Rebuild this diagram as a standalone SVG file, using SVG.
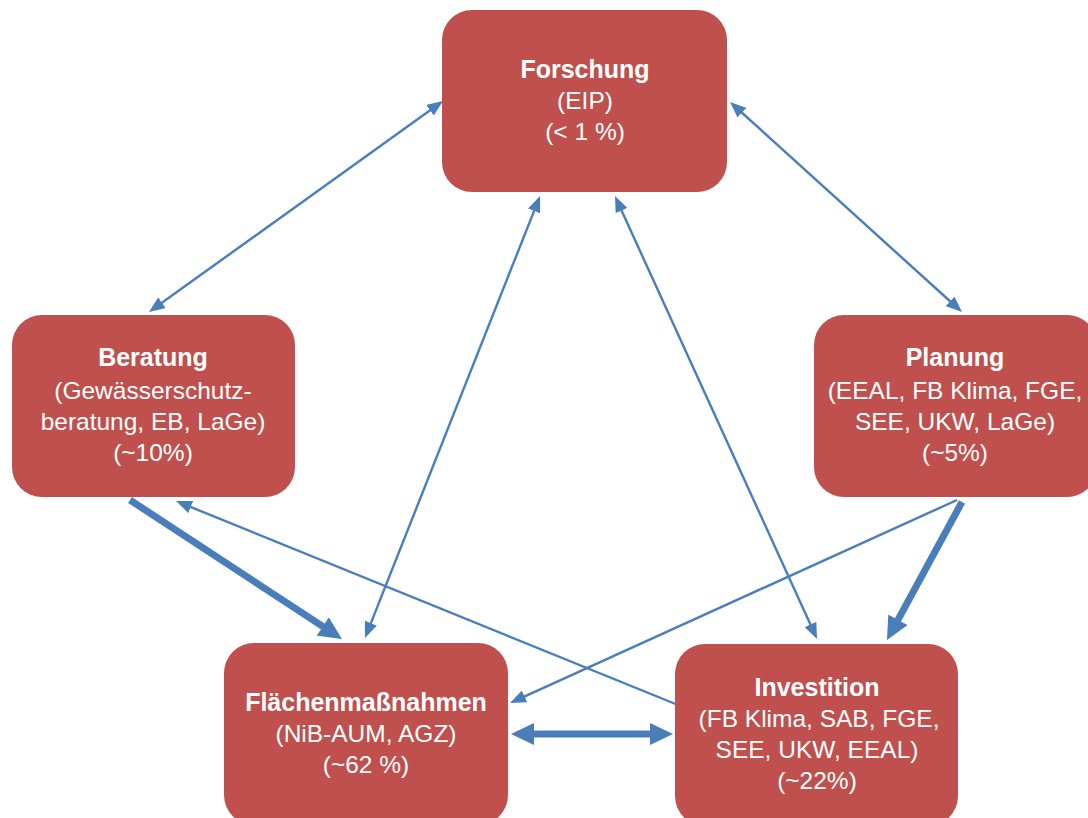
<svg xmlns="http://www.w3.org/2000/svg" width="1088" height="818" viewBox="0 0 1088 818">
<style>
.box{fill:#C0504D;}
.t{font-family:"Liberation Sans",Arial,sans-serif;font-size:24.5px;fill:#FFFFFF;text-anchor:middle;}
.b{font-weight:bold;font-size:25px;}
.thin{stroke:#4A7EBB;stroke-width:2.4;fill:none;}
.thick{stroke:#4A7EBB;stroke-width:7;fill:none;}
</style>
<defs>
<marker id="ah" markerUnits="userSpaceOnUse" markerWidth="16" markerHeight="13" refX="7" refY="6.5" orient="auto-start-reverse"><path d="M0,0 L16,6.5 L0,13 z" fill="#4A7EBB"/></marker>
<marker id="ahT" markerUnits="userSpaceOnUse" markerWidth="23" markerHeight="22" refX="10" refY="11" orient="auto-start-reverse"><path d="M0,0 L23,11 L0,22 z" fill="#4A7EBB"/></marker>
</defs>
<rect width="1088" height="818" fill="#FFFFFF"/>
<g id="connectors">
<line class="thin" x1="435.7" y1="106.2" x2="156.3" y2="306.8" marker-start="url(#ah)" marker-end="url(#ah)"/>
<line class="thin" x1="736.7" y1="108" x2="955.3" y2="306" marker-start="url(#ah)" marker-end="url(#ah)"/>
<line class="thin" x1="536.7" y1="204.4" x2="368.3" y2="629.6" marker-start="url(#ah)" marker-end="url(#ah)"/>
<line class="thin" x1="618.7" y1="204.2" x2="813.3" y2="630.8" marker-start="url(#ah)" marker-end="url(#ah)"/>
<line class="thin" x1="678" y1="705" x2="184.3" y2="504.4" marker-end="url(#ah)"/>
<line class="thin" x1="957" y1="500" x2="518.2" y2="699.3" marker-end="url(#ah)"/>
<line class="thick" x1="130" y1="500" x2="331.1" y2="631.9" marker-end="url(#ahT)"/>
<line class="thick" x1="962" y1="502" x2="893.2" y2="628.6" marker-end="url(#ahT)"/>
<line class="thick" x1="524" y1="734" x2="660" y2="734" marker-start="url(#ahT)" marker-end="url(#ahT)"/>
</g>
<g id="forschung">
<rect class="box" x="442" y="10" width="285" height="182" rx="30"/>
<text class="t b" x="585" y="78">Forschung</text>
<text class="t" x="585" y="109">(EIP)</text>
<text class="t" x="585" y="140">(&lt; 1 %)</text>
</g>
<g id="beratung">
<rect class="box" x="12" y="315" width="283" height="182" rx="30"/>
<text class="t b" x="153" y="366">Beratung</text>
<text class="t" x="153" y="399">(Gewässerschutz-</text>
<text class="t" x="153" y="430">beratung, EB, LaGe)</text>
<text class="t" x="153" y="461">(~10%)</text>
</g>
<g id="planung">
<rect class="box" x="814" y="315" width="283" height="182" rx="30"/>
<text class="t b" x="955" y="366">Planung</text>
<text class="t" x="955" y="399">(EEAL, FB Klima, FGE,</text>
<text class="t" x="955" y="430">SEE, UKW, LaGe)</text>
<text class="t" x="955" y="461">(~5%)</text>
</g>
<g id="flaechenmassnahmen">
<rect class="box" x="224" y="643" width="284" height="182" rx="30"/>
<text class="t b" x="366" y="711">Flächenmaßnahmen</text>
<text class="t" x="366" y="742">(NiB-AUM, AGZ)</text>
<text class="t" x="366" y="773">(~62 %)</text>
</g>
<g id="investition">
<rect class="box" x="675" y="644" width="283" height="182" rx="30"/>
<text class="t b" x="817" y="696">Investition</text>
<text class="t" x="819" y="727">(FB Klima, SAB, FGE,</text>
<text class="t" x="817" y="758">SEE, UKW, EEAL)</text>
<text class="t" x="817" y="789">(~22%)</text>
</g>
</svg>
